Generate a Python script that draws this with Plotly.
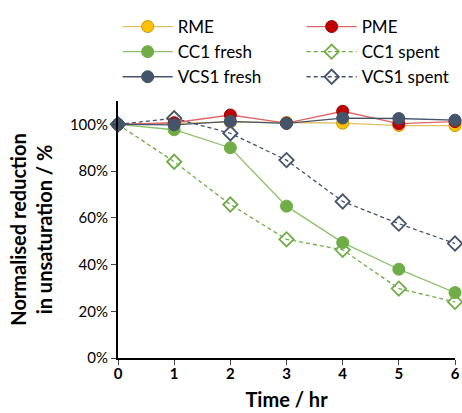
import plotly.graph_objects as go

time = [0, 1, 2, 3, 4, 5, 6]
rme = [1.000, 1.005, 1.010, 1.008, 1.005, 0.995, 0.995]
pme = [1.000, 1.007, 1.040, 1.005, 1.056, 1.003, 1.012]
cc1_fresh = [1.000, 0.977, 0.900, 0.650, 0.494, 0.380, 0.280]
cc1_spent = [1.000, 0.840, 0.657, 0.508, 0.463, 0.297, 0.240]
vcs1_fresh = [1.000, 0.998, 1.013, 1.004, 1.027, 1.025, 1.018]
vcs1_spent = [1.000, 1.026, 0.962, 0.847, 0.670, 0.575, 0.490]

FONT = "Lato, Open Sans, DejaVu Sans, sans-serif"

series = [
    ("RME", rme, "#E2BE62", "circle", "#FFC000", "#C99400", "solid"),
    ("PME", pme, "#E06666", "circle", "#C00000", "#A00000", "solid"),
    ("CC1 fresh", cc1_fresh, "#8CC26A", "circle", "#70AD47", "#70AD47", "solid"),
    ("CC1 spent", cc1_spent, "#70AD47", "diamond-open", "#70AD47", "#70AD47", "4px,3px"),
    ("VCS1 fresh", vcs1_fresh, "#44546A", "circle", "#44546A", "#44546A", "solid"),
    ("VCS1 spent", vcs1_spent, "#44546A", "diamond-open", "#44546A", "#44546A", "4px,3px"),
]

fig = go.Figure()
for name, vals, lcol, sym, mcol, mline, dash in series:
    open_m = "open" in sym
    fig.add_trace(go.Scatter(
        x=time, y=vals, name=name, mode="lines+markers",
        line=dict(color=lcol, width=1.3, dash=dash),
        marker=dict(symbol=sym, size=11 if open_m else 12, color=mcol,
                    line=dict(color=mline, width=1.8 if open_m else 1)),
        cliponaxis=False,
    ))

fig.update_layout(
    width=462, height=413,
    margin=dict(l=118, r=7, t=101, b=55, autoexpand=False),
    paper_bgcolor="white", plot_bgcolor="white",
    font=dict(family=FONT, size=15, color="black"),
    showlegend=True,
    legend=dict(orientation="h", x=-0.001, xanchor="left",
                y=1.358, yanchor="top",
                entrywidth=119, entrywidthmode="pixels",
                font=dict(size=17, family=FONT), traceorder="normal",
                tracegroupgap=0, itemwidth=50, bgcolor="rgba(0,0,0,0)"),
    xaxis=dict(range=[0, 6], tickvals=time, ticks="outside", ticklen=5, tickwidth=1,
               ticklabelstandoff=-4,
               showline=True, linecolor="black", linewidth=2, showgrid=False, zeroline=False,
               tickfont=dict(size=15, family=FONT, weight="bold"),
               title=dict(text="<b>Time / hr</b>", font=dict(size=20, family=FONT), standoff=12)),
    yaxis=dict(range=[0, 1.1], tickvals=[0, 0.2, 0.4, 0.6, 0.8, 1.0], tickformat=".0%",
               ticks="outside", ticklen=5, tickwidth=1,
               showline=True, linecolor="black", linewidth=2, showgrid=False, zeroline=False,
               tickfont=dict(size=15, family=FONT),
               title=dict(text="<b>Normalised reduction<br>in unsaturation / %</b>",
                          font=dict(size=20, family=FONT), standoff=12)),
)

fig.write_html("out.html", config={"displayModeBar": False},
               post_script="document.body.style.margin='0';document.body.style.overflow='hidden';")
